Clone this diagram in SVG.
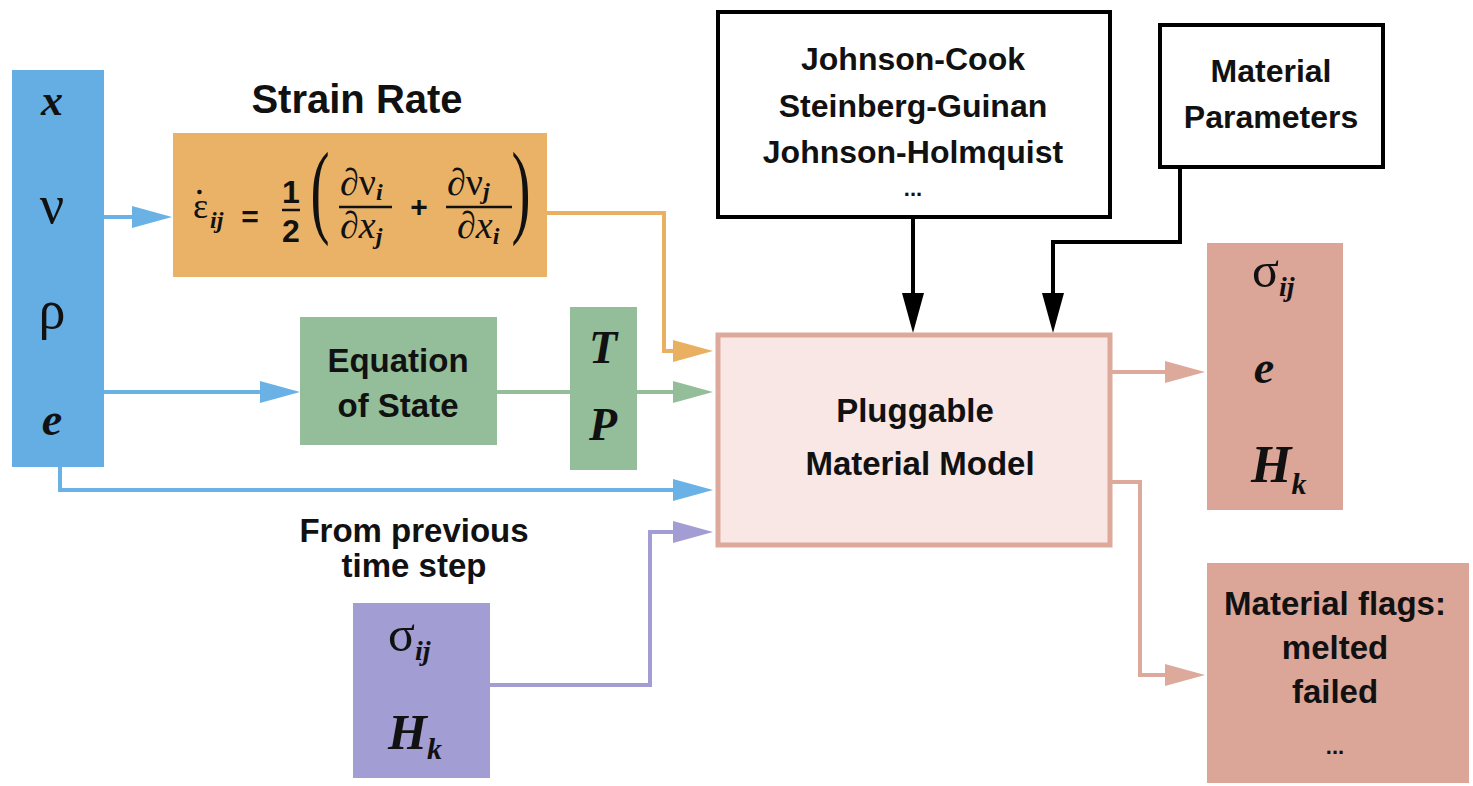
<svg xmlns="http://www.w3.org/2000/svg" width="1473" height="786" viewBox="0 0 1473 786">
  <style>
    .lbl { font-family: "Liberation Sans", Arial, sans-serif; font-weight: bold; font-size: 33px; fill: #111; text-anchor: middle; }
    .sym { font-family: "Liberation Serif", "Times New Roman", serif; fill: #111; }
    .bi { font-weight: bold; font-style: italic; }
    .conn { fill: none; stroke-width: 4; }
  </style>
  <defs>
    <marker id="ah-blue" markerUnits="userSpaceOnUse" markerWidth="40" markerHeight="22" refX="20" refY="11" orient="auto"><path d="M0,0 L40,11 L0,22 z" fill="#6AB2E6"/></marker>
    <marker id="ah-orange" markerUnits="userSpaceOnUse" markerWidth="40" markerHeight="22" refX="20" refY="11" orient="auto"><path d="M0,0 L40,11 L0,22 z" fill="#E9B062"/></marker>
    <marker id="ah-green" markerUnits="userSpaceOnUse" markerWidth="40" markerHeight="22" refX="20" refY="11" orient="auto"><path d="M0,0 L40,11 L0,22 z" fill="#93BE99"/></marker>
    <marker id="ah-purple" markerUnits="userSpaceOnUse" markerWidth="40" markerHeight="22" refX="20" refY="11" orient="auto"><path d="M0,0 L40,11 L0,22 z" fill="#A29DD3"/></marker>
    <marker id="ah-salmon" markerUnits="userSpaceOnUse" markerWidth="40" markerHeight="22" refX="20" refY="11" orient="auto"><path d="M0,0 L40,11 L0,22 z" fill="#DDA99B"/></marker>
    <marker id="ah-black" markerUnits="userSpaceOnUse" markerWidth="40" markerHeight="22" refX="20" refY="11" orient="auto"><path d="M0,0 L40,11 L0,22 z" fill="#000"/></marker>
  </defs>
  <rect width="1473" height="786" fill="#fff"/>

  <!-- connectors -->
  <g id="connectors">
    <path class="conn" stroke="#6AB2E6" d="M104,217 H152" marker-end="url(#ah-blue)"/>
    <path class="conn" stroke="#6AB2E6" d="M104,392 H280" marker-end="url(#ah-blue)"/>
    <path class="conn" stroke="#6AB2E6" d="M60,467 V490 H693" marker-end="url(#ah-blue)"/>
    <path class="conn" stroke="#E9B062" d="M547,213 H664 V351 H693" marker-end="url(#ah-orange)"/>
    <path class="conn" stroke="#93BE99" d="M497,392 H570"/>
    <path class="conn" stroke="#93BE99" d="M637,392 H693" marker-end="url(#ah-green)"/>
    <path class="conn" stroke="#A29DD3" d="M490,685 H650 V532 H693" marker-end="url(#ah-purple)"/>
    <path class="conn" stroke="#000" d="M913,217 V313" marker-end="url(#ah-black)"/>
    <path class="conn" stroke="#000" d="M1180,167 V242 H1053 V313" marker-end="url(#ah-black)"/>
    <path class="conn" stroke="#DDA99B" d="M1110,372 H1185" marker-end="url(#ah-salmon)"/>
    <path class="conn" stroke="#DDA99B" d="M1110,482 H1140 V675 H1185" marker-end="url(#ah-salmon)"/>
  </g>

  <!-- input state variables -->
  <g id="inputs">
    <rect x="12" y="70" width="92" height="397" fill="#64AEE3"/>
    <text class="sym bi" x="52" y="115" font-size="44" text-anchor="middle">x</text>
    <text class="sym" x="52" y="223" font-size="54" text-anchor="middle">ν</text>
    <text class="sym" x="52" y="328" font-size="54" text-anchor="middle">ρ</text>
    <text class="sym bi" x="52" y="435" font-size="46" text-anchor="middle">e</text>
  </g>

  <!-- strain rate -->
  <g id="strain-rate">
    <text class="lbl" x="357" y="113" style="font-size:40px">Strain Rate</text>
    <rect x="173" y="133" width="374" height="144" fill="#E9B266"/>
    <text class="sym" x="193" y="218" font-size="36">ε</text>
    <circle cx="199.5" cy="192" r="2.3" fill="#111"/>
    <text class="sym bi" x="210" y="228" font-size="24">ij</text>
    <text class="lbl" x="250" y="227" style="font-size:30px">=</text>
    <text class="lbl" x="291" y="203" style="font-size:32px">1</text>
    <line x1="282" y1="210" x2="300" y2="210" stroke="#111" stroke-width="2.5"/>
    <text class="lbl" x="291" y="242" style="font-size:32px">2</text>
    <text class="sym" transform="translate(320,224) scale(0.55,1)" font-size="104" text-anchor="middle">(</text>
    <text class="sym" x="340" y="195" font-size="38">∂ν<tspan class="bi" font-size="24" dy="5">i</tspan></text>
    <line x1="339" y1="207" x2="392" y2="207" stroke="#111" stroke-width="2.5"/>
    <text class="sym" x="340" y="238" font-size="38">∂<tspan font-style="italic">x</tspan><tspan class="bi" font-size="24" dy="6">j</tspan></text>
    <text class="lbl" x="419" y="217" style="font-size:30px">+</text>
    <text class="sym" x="447" y="195" font-size="38">∂ν<tspan class="bi" font-size="24" dy="4">j</tspan></text>
    <line x1="446" y1="207" x2="512" y2="207" stroke="#111" stroke-width="2.5"/>
    <text class="sym" x="457" y="238" font-size="38">∂<tspan font-style="italic">x</tspan><tspan class="bi" font-size="24" dy="6">i</tspan></text>
    <text class="sym" transform="translate(521,224) scale(0.55,1)" font-size="104" text-anchor="middle">)</text>
  </g>

  <!-- equation of state -->
  <g id="eos">
    <rect x="300" y="317" width="197" height="128" fill="#93BE99"/>
    <text class="lbl" x="398" y="372">Equation</text>
    <text class="lbl" x="398" y="417">of State</text>
  </g>

  <g id="temp-pressure">
    <rect x="570" y="307" width="67" height="163" fill="#93BE99"/>
    <text class="sym bi" x="603" y="363" font-size="46" text-anchor="middle">T</text>
    <text class="sym bi" x="603" y="440" font-size="46" text-anchor="middle">P</text>
  </g>

  <!-- history from previous step -->
  <g id="previous-step">
    <text class="lbl" x="414" y="542">From previous</text>
    <text class="lbl" x="414" y="577">time step</text>
    <rect x="353" y="603" width="137" height="175" fill="#A29DD3"/>
    <text class="sym" x="388" y="651" font-size="50">σ<tspan class="bi" font-size="28" dy="9">ij</tspan></text>
    <text class="sym bi" x="388" y="749" font-size="50">H<tspan font-size="30" dy="10">k</tspan></text>
  </g>

  <!-- model library -->
  <g id="models">
    <rect x="718" y="12" width="392" height="205" fill="#fff" stroke="#000" stroke-width="4"/>
    <text class="lbl" x="913" y="70" style="font-size:32px">Johnson-Cook</text>
    <text class="lbl" x="913" y="117" style="font-size:32px">Steinberg-Guinan</text>
    <text class="lbl" x="913" y="163" style="font-size:32px">Johnson-Holmquist</text>
    <text class="lbl" x="913" y="196" style="font-size:22px">...</text>
  </g>

  <g id="material-parameters">
    <rect x="1160" y="25" width="223" height="142" fill="#fff" stroke="#000" stroke-width="4"/>
    <text class="lbl" x="1271" y="82" style="font-size:32px">Material</text>
    <text class="lbl" x="1271" y="128" style="font-size:32px">Parameters</text>
  </g>

  <!-- central model -->
  <g id="material-model">
    <rect x="718" y="335" width="392" height="210" fill="#F8E7E5" stroke="#DDA99B" stroke-width="5"/>
    <text class="lbl" x="915" y="422">Pluggable</text>
    <text class="lbl" x="920" y="475">Material Model</text>
  </g>

  <!-- outputs -->
  <g id="outputs">
    <rect x="1207" y="243" width="136" height="267" fill="#DBA597"/>
    <text class="sym" x="1252" y="287" font-size="50">σ<tspan class="bi" font-size="28" dy="9">ij</tspan></text>
    <text class="sym bi" x="1264" y="383" font-size="46" text-anchor="middle">e</text>
    <text class="sym bi" x="1251" y="482" font-size="52">H<tspan font-size="30" dy="12">k</tspan></text>
  </g>

  <g id="flags">
    <rect x="1207" y="563" width="262" height="220" fill="#DBA597"/>
    <text class="lbl" x="1335" y="615">Material flags:</text>
    <text class="lbl" x="1335" y="659">melted</text>
    <text class="lbl" x="1335" y="703">failed</text>
    <text class="lbl" x="1335" y="754" style="font-size:22px">...</text>
  </g>
</svg>
